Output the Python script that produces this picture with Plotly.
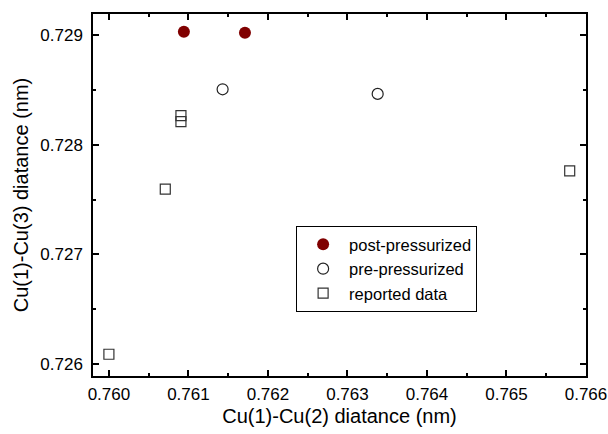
import plotly.graph_objects as go

post_x = [0.760943, 0.761711]
post_y = [0.729030, 0.729021]
pre_x = [0.761430, 0.763380]
pre_y = [0.728505, 0.728463]
rep_x = [0.760000, 0.760709, 0.760906, 0.760906, 0.765795]
rep_y = [0.726091, 0.727595, 0.728265, 0.728210, 0.727761]

font = "Arial, Liberation Sans, sans-serif"

fig = go.Figure()
fig.add_trace(go.Scatter(x=post_x, y=post_y, mode="markers", name="post-pressurized",
                         marker=dict(symbol="circle", size=12, color="#800000",
                                     line=dict(width=0))))
fig.add_trace(go.Scatter(x=pre_x, y=pre_y, mode="markers", name="pre-pressurized",
                         marker=dict(symbol="circle", size=11, color="white",
                                     line=dict(width=1.2, color="#222"))))
fig.add_trace(go.Scatter(x=rep_x, y=rep_y, mode="markers", name="reported data",
                         marker=dict(symbol="square", size=10, color="rgba(255,255,255,0)",
                                     line=dict(width=1.2, color="#333"))))

axis_common = dict(showline=True, mirror="ticks", linecolor="black", linewidth=1.5,
                   ticks="inside", ticklen=6, tickwidth=1.5, tickcolor="black",
                   showgrid=False, zeroline=False, dtick=0.001, tickformat=".3f",
                   automargin=False,
                   tickfont=dict(family=font, size=17, color="black"),
                   minor=dict(ticks="inside", ticklen=3, tickwidth=1.5, tickcolor="black",
                              dtick=0.0005, showgrid=False))

fig.update_layout(
    width=608, height=434,
    margin=dict(l=93, r=22, t=14, b=58),
    plot_bgcolor="white", paper_bgcolor="white",
    font=dict(family=font, color="black"),
    showlegend=True,
    legend=dict(x=0.412, y=0.2956, xanchor="left", yanchor="middle",
                bordercolor="black", borderwidth=1, bgcolor="white",
                itemwidth=42, font=dict(family=font, size=16.5, color="black"),
                tracegroupgap=0),
    xaxis=dict(range=[0.7598, 0.766], **axis_common, ticklabelstandoff=2,
               title=dict(text="Cu(1)-Cu(2) diatance (nm)", font=dict(family=font, size=20),
                          standoff=6)),
    yaxis=dict(range=[0.725893, 0.729191], **axis_common, ticklabelstandoff=5,
               title=dict(text="Cu(1)-Cu(3) diatance (nm)", font=dict(family=font, size=20),
                          standoff=6)),
)

fig.write_html("out.html", config={"displayModeBar": False},
               post_script="document.body.style.margin='0px';document.body.style.overflow='hidden';")
